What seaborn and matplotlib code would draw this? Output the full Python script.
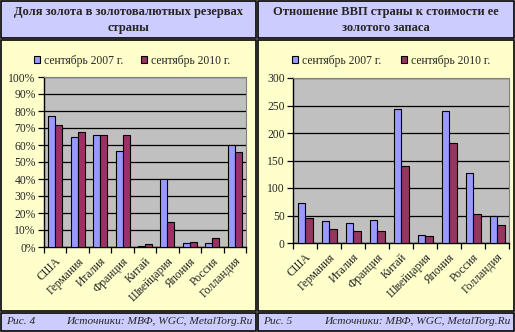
import matplotlib
matplotlib.use("Agg")
import matplotlib.pyplot as plt
from matplotlib.patches import Rectangle
from matplotlib.ticker import FuncFormatter, FixedLocator
import numpy as np
import pandas as pd
import seaborn as sns

countries = ["США", "Германия", "Италия", "Франция", "Китай",
             "Швейцария", "Япония", "Россия", "Голландия"]
periods = ["сентябрь 2007 г.", "сентябрь 2010 г."]

gold_share_2007 = [77, 65, 66, 56.5, 0.8, 40, 2.2, 2.6, 60]
gold_share_2010 = [72, 67.5, 66, 66, 1.5, 15, 2.8, 5.5, 56]

gdp_ratio_2007 = [72, 40, 36, 41, 243, 14, 240, 127, 50]
gdp_ratio_2010 = [45, 25, 21, 21, 140, 12, 182, 52, 32]

titles = ["Доля золота в золотовалютных резервах\nстраны",
          "Отношение ВВП страны к стоимости ее\nзолотого запаса"]
fig_labels = ["Рис. 4", "Рис. 5"]
source = "Источники: МВФ, WGC, MetalTorg.Ru"

C_TITLE = "#CCCCFF"
C_BODY = "#FFFFCC"
C_PLOT = "#C0C0C0"
palette = ["#9999FF", "#993366"]

sns.set_theme(style="white")
plt.rcParams["font.family"] = ["Liberation Serif", "DejaVu Serif"]

W, H = 515, 332
fig = plt.figure(figsize=(W / 100, H / 100), dpi=100)
fig.patch.set_facecolor("white")


def box(x0, y0, x1, y1, color):
    """Rectangle given in pixel coordinates measured from the top-left."""
    fig.patches.append(Rectangle((x0 / W, 1 - y1 / H), (x1 - x0) / W, (y1 - y0) / H,
                                 transform=fig.transFigure, facecolor=color,
                                 edgecolor="black", linewidth=1.2, zorder=-5))


def ftext(x, y, s, **kw):
    fig.text(x / W, 1 - y / H, s, **kw)


def axes_px(x0, y0, x1, y1):
    return fig.add_axes([x0 / W, 1 - y1 / H, (x1 - x0) / W, (y1 - y0) / H])


panels = [
    dict(x0=1, x1=256, vals=(gold_share_2007, gold_share_2010),
         ax=(44, 77, 246, 247), ylim=100, step=10, pct=True,
         leg_x=(37, 144)),
    dict(x0=258, x1=514, vals=(gdp_ratio_2007, gdp_ratio_2010),
         ax=(293, 78, 509, 243), ylim=300, step=50, pct=False,
         leg_x=(295, 404)),
]

FS = 8.4

for i, p in enumerate(panels):
    x0, x1 = p["x0"], p["x1"]
    box(x0, 1, x1, 38, C_TITLE)
    box(x0, 40, x1, 311, C_BODY)
    box(x0, 313, x1, 331, C_TITLE)
    ftext((x0 + x1) / 2, 20, titles[i], ha="center", va="center",
          fontsize=9, fontweight="bold", linespacing=1.45)
    ftext(x0 + 5, 322, fig_labels[i], ha="left", va="center",
          fontsize=8.2, style="italic")
    ftext(x1 - 3, 322, source, ha="right", va="center",
          fontsize=8.2, style="italic")

    df = pd.DataFrame({
        "country": countries * 2,
        "period": [periods[0]] * len(countries) + [periods[1]] * len(countries),
        "value": list(p["vals"][0]) + list(p["vals"][1]),
    })
    ax = axes_px(*p["ax"])
    ax.set_facecolor(C_PLOT)
    sns.barplot(data=df, x="country", y="value", hue="period", order=countries,
                hue_order=periods, palette=palette, width=0.625, gap=0,
                edgecolor="black", linewidth=0.8, saturation=1, ax=ax,
                legend=True, zorder=3)
    handles, labels = ax.get_legend_handles_labels()
    ax.get_legend().remove()

    ax.set_ylim(0, p["ylim"])
    ax.set_xlim(-0.5, len(countries) - 0.5)
    ax.set_yticks(np.arange(0, p["ylim"] + 1, p["step"]))
    if p["pct"]:
        ax.yaxis.set_major_formatter(FuncFormatter(lambda v, _: f"{v:.0f}%"))
    ax.grid(axis="y", color="black", linewidth=0.9)
    ax.set_axisbelow(True)
    ax.set_xlabel("")
    ax.set_ylabel("")

    for s in ("top", "right"):
        ax.spines[s].set_color("#808080")
        ax.spines[s].set_linewidth(0.8)
    for s in ("left", "bottom"):
        ax.spines[s].set_color("black")
        ax.spines[s].set_linewidth(1.0)

    ax.tick_params(axis="y", which="major", direction="out", length=4,
                   width=0.9, color="black", labelsize=FS, pad=2, left=True)
    ax.set_xticks(range(len(countries)))
    ax.set_xticklabels(countries, rotation=45, ha="right",
                       rotation_mode="anchor", fontsize=FS)
    ax.tick_params(axis="x", which="major", length=0, pad=6)
    ax.xaxis.set_minor_locator(FixedLocator(np.arange(-0.5, len(countries), 1.0)))
    ax.tick_params(axis="x", which="minor", direction="out", length=4,
                   width=0.9, color="black", bottom=True)

    leg_y = 1 - 61 / H
    for j in range(2):
        fig.legend([handles[j]], [labels[j]], loc="center left",
                   bbox_to_anchor=((p["leg_x"][j] - 3) / W, leg_y),
                   frameon=False, fontsize=FS, handlelength=0.55,
                   handleheight=0.55, handletextpad=0.3,
                   borderpad=0, borderaxespad=0)

fig.savefig("out.png", dpi=100, facecolor=fig.get_facecolor())
